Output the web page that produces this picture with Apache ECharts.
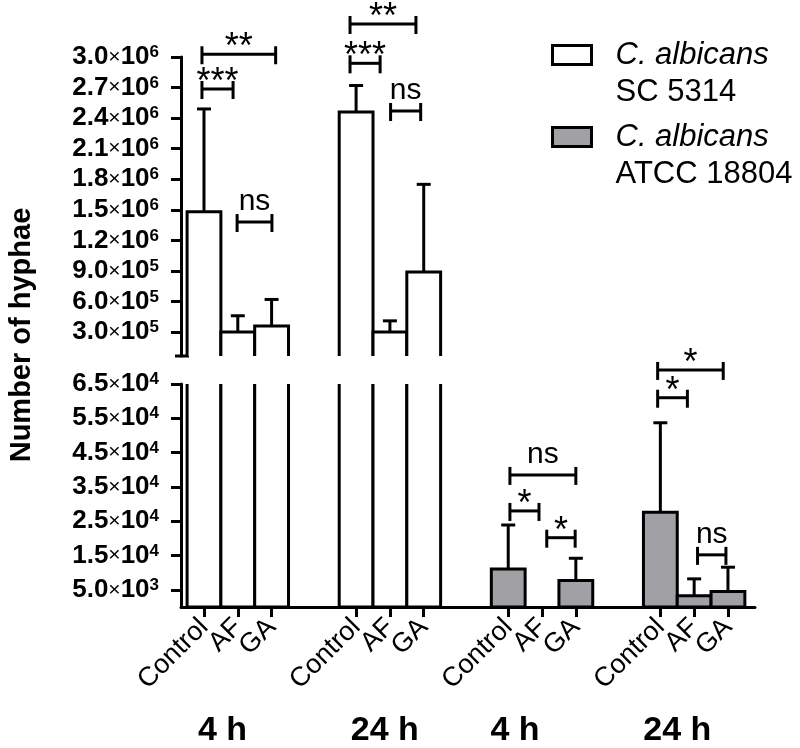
<!DOCTYPE html>
<html><head><meta charset="utf-8">
<script src="https://cdn.jsdelivr.net/npm/echarts@6/dist/echarts.min.js"></script>
<style>html,body{margin:0;padding:0;background:#fff}#c{width:800px;height:748px}</style>
</head><body><div id="c"></div>
<script>
// ---------- data ----------
const treatments = ['Control', 'AF', 'GA'];
const groupLabels = ['4 h', '24 h', '4 h', '24 h'];
const groupStarts = [0, 4.5, 9, 13.5];          // slot index of first bar in each group
const groupLabelPos = [0.55, 5.35, 9.2, 14.0];  // where the group captions sit (slot units)
const strainSpecies = 'C. albicans';
const strainNames = ['SC 5314', 'ATCC 18804'];

const scMean   = [1480000, 300000, 360000, 2460000, 300000, 890000];
const scSD     = [1010000, 160000, 260000, 260000, 110000, 860000];
const atccMean = [11100, 0, 7700, 27600, 3300, 4500];
const atccSD   = [12800, 0, 6500, 26100, 4900, 7100];

const topTicks    = [300000, 600000, 900000, 1200000, 1500000, 1800000, 2100000, 2400000, 2700000, 3000000];
const bottomTicks = [5000, 15000, 25000, 35000, 45000, 55000, 65000];

// significance brackets: panel (0 top, 1 bottom), from slot, to slot, level, text
const brPanel = [0, 0, 0, 0, 0, 0, 1, 1, 1, 1, 1, 1];
const brX1    = [-0.06, -0.06, 0.98, 4.32, 4.32, 5.52, 9.05, 9.05, 10.14, 13.42, 13.42, 14.6];
const brX2    = [2.12, 0.86, 2.01, 6.27, 5.21, 6.41, 11.0, 9.91, 10.98, 15.36, 14.30, 15.44];
const brY     = [3027000, 2686000, 1380000, 3324000, 2938000, 2470000, 38500, 28000, 20200, 69100, 61000, 15200];
const brText  = ['**', '***', 'ns', '**', '***', 'ns', 'ns', '*', '*', '*', '*', 'ns'];

// ---------- helpers ----------
const slots = groupStarts.flatMap(g => [g, g + 1, g + 2]);
const FONT = '"Liberation Sans", Arial, Helvetica, sans-serif';
const X_MIN = -0.68, X_MAX = 16.3;

function sci(v) {
  const e = Math.floor(Math.log10(v) + 1e-9);
  const m = (v / Math.pow(10, e)).toFixed(1);
  return '{b|' + m + '}{x|×}{b|10}{s|' + e + '}';
}
const yRich = {
  b: { fontFamily: FONT, fontWeight: 'bold', fontSize: 26, color: '#000' },
  x: { fontFamily: FONT, fontWeight: 'normal', fontSize: 21, color: '#000' },
  s: { fontFamily: FONT, fontWeight: 'bold', fontSize: 17, color: '#000', verticalAlign: 'top', lineHeight: 13 }
};

function barRender(color) {
  return function (params, api) {
    const cs = params.coordSys;
    const x = api.value(0), m = api.value(1), sd = api.value(2);
    const w = api.size([1, 0])[0];
    const c = api.coord([x, m]);
    const b = api.coord([x, 0]);
    const e = api.coord([x, m + sd]);
    const top = cs.y, bot = cs.y + cs.height;
    const left = c[0] - w / 2, right = c[0] + w / 2;
    const ln = { stroke: '#000', lineWidth: 3 };
    const ch = [];
    const yT = c[1], yB = b[1];
    const yT2 = Math.max(yT, top), yB2 = Math.min(yB, bot);
    if (yB2 > yT2 + 0.5) {
      ch.push({ type: 'rect', shape: { x: left, y: yT2, width: w, height: yB2 - yT2 }, style: { fill: color } });
      if (yT >= top) {
        ch.push({ type: 'polyline', shape: { points: [[left, yB2], [left, yT2], [right, yT2], [right, yB2]] }, style: Object.assign({ fill: null }, ln) });
      } else {
        ch.push({ type: 'line', shape: { x1: left, y1: yT2, x2: left, y2: yB2 }, style: ln });
        ch.push({ type: 'line', shape: { x1: right, y1: yT2, x2: right, y2: yB2 }, style: ln });
      }
      if (yB <= bot) ch.push({ type: 'line', shape: { x1: left, y1: yB2, x2: right, y2: yB2 }, style: ln });
    }
    if (sd > 0) {
      const ey1 = Math.min(yT, bot), ey2 = Math.max(e[1], top);
      if (ey1 > ey2) {
        ch.push({ type: 'line', shape: { x1: c[0], y1: ey1, x2: c[0], y2: ey2 }, style: ln });
        if (e[1] >= top) ch.push({ type: 'line', shape: { x1: c[0] - 7, y1: e[1], x2: c[0] + 7, y2: e[1] }, style: ln });
      }
    }
    return { type: 'group', children: ch };
  };
}

function bracketRender(params, api) {
  const p1 = api.coord([api.value(0), api.value(2)]);
  const p2 = api.coord([api.value(1), api.value(2)]);
  const txt = brText[api.value(3)];
  const y = p1[1];
  const ln = { stroke: '#000', lineWidth: 3 };
  const isNs = txt === 'ns';
  return {
    type: 'group', children: [
      { type: 'line', shape: { x1: p1[0], y1: y, x2: p2[0], y2: y }, style: ln },
      { type: 'line', shape: { x1: p1[0], y1: y - 8, x2: p1[0], y2: y + 10 }, style: ln },
      { type: 'line', shape: { x1: p2[0], y1: y - 8, x2: p2[0], y2: y + 10 }, style: ln },
      { type: 'text', x: (p1[0] + p2[0]) / 2, y: isNs ? y - 20 : y - 6,
        style: { text: txt, fill: '#000', align: 'center', verticalAlign: 'middle',
                 font: (isNs ? '30px ' : '36px ') + FONT } }
    ]
  };
}

function bracketData(panel) {
  const d = [];
  for (let i = 0; i < brText.length; i++) if (brPanel[i] === panel) d.push([brX1[i], brX2[i], brY[i], i]);
  return d;
}

const scData = scMean.map((v, i) => [slots[i], v, scSD[i]]);
const atccData = atccMean.map((v, i) => [slots[i + 6], v, atccSD[i]]);

const axisLineStyle = { show: true, onZero: false, lineStyle: { color: '#000', width: 3 } };
const tickStyle = { show: true, length: 10, lineStyle: { color: '#000', width: 3 } };

// one label axis per treatment so that rotated labels never get auto-hidden
function treatmentLabelAxis(t, withLine) {
  const pos = groupStarts.map(g => g + t);
  return {
    type: 'value', gridIndex: 1, position: 'bottom', offset: 0, min: X_MIN, max: X_MAX, splitLine: { show: false },
    axisLine: withLine ? axisLineStyle : { show: false, onZero: false },
    axisTick: withLine ? Object.assign({ customValues: slots }, tickStyle) : { show: false },
    axisLabel: { customValues: pos, rotate: 45, margin: 16, fontFamily: FONT, fontSize: 27, color: '#000',
      showMinLabel: true, showMaxLabel: true, hideOverlap: false,
      formatter: () => treatments[t] }
  };
}

function legendFor(idx, topPx) {
  return {
    data: [strainNames[idx]], left: 551, top: topPx, padding: 0, orient: 'vertical',
    icon: 'rect', itemWidth: 39, itemHeight: 19, selectedMode: false,
    itemStyle: { borderColor: '#000', borderWidth: 3 },
    formatter: name => '{sp| }\n{i|' + strainSpecies + '}\n{n|' + name + '}',
    textStyle: {
      rich: {
        sp: { fontSize: 10, lineHeight: 37, padding: [0, 0, 0, 19] },
        i: { fontFamily: FONT, fontStyle: 'italic', fontSize: 31, lineHeight: 37, color: '#000', padding: [0, 0, 0, 19] },
        n: { fontFamily: FONT, fontSize: 31, lineHeight: 37, color: '#000', padding: [0, 0, 0, 19] }
      }
    }
  };
}

const chart = echarts.init(document.getElementById('c'), null, { renderer: 'canvas' });
chart.setOption({
  backgroundColor: '#fff',
  animation: false,
  legend: [legendFor(0, 13), legendFor(1, 95)],
  grid: [
    { left: 181, top: 57, width: 574, height: 299 },
    { left: 181, top: 384, width: 574, height: 223 }
  ],
  xAxis: [
    { type: 'value', gridIndex: 0, min: X_MIN, max: X_MAX, show: false },
    treatmentLabelAxis(0, true),
    treatmentLabelAxis(1, false),
    treatmentLabelAxis(2, false),
    { type: 'value', gridIndex: 1, position: 'bottom', offset: 0, min: X_MIN, max: X_MAX, splitLine: { show: false },
      axisLine: { show: false, onZero: false }, axisTick: { show: false },
      axisLabel: { customValues: groupLabelPos, margin: 107, fontFamily: FONT, fontWeight: 'bold', fontSize: 34, color: '#000',
        showMinLabel: true, showMaxLabel: true,
        formatter: v => { const i = groupLabelPos.findIndex(s => Math.abs(s - v) < 1e-6); return i >= 0 ? groupLabels[i] : ''; } } }
  ],
  yAxis: [
    { type: 'value', gridIndex: 0, min: 65000, max: 3000000, splitLine: { show: false },
      axisLine: axisLineStyle,
      axisTick: Object.assign({ customValues: topTicks }, tickStyle),
      axisLabel: { customValues: topTicks, margin: 22, formatter: sci, rich: yRich, showMinLabel: true, showMaxLabel: true } },
    { type: 'value', gridIndex: 1, min: 0, max: 65000, splitLine: { show: false },
      axisLine: axisLineStyle,
      axisTick: Object.assign({ customValues: bottomTicks }, tickStyle),
      axisLabel: { customValues: bottomTicks, margin: 22, formatter: sci, rich: yRich, showMinLabel: true, showMaxLabel: true } }
  ],
  graphic: [
    { type: 'text', x: 22, y: 335, rotation: Math.PI / 2,
      style: { text: 'Number of hyphae', font: 'bold 29px ' + FONT, fill: '#000', align: 'center', verticalAlign: 'middle' } },
    { type: 'line', shape: { x1: 175, y1: 356, x2: 189, y2: 356 }, style: { stroke: '#000', lineWidth: 3 } }
  ],
  series: [
    { type: 'custom', name: strainNames[0], xAxisIndex: 0, yAxisIndex: 0, data: scData, renderItem: barRender('#ffffff'),
      itemStyle: { color: '#ffffff' }, encode: { x: 0, y: 1 } },
    { type: 'custom', name: strainNames[1], xAxisIndex: 0, yAxisIndex: 0, data: atccData, renderItem: barRender('#a0a0a5'),
      itemStyle: { color: '#a0a0a5' }, encode: { x: 0, y: 1 } },
    { type: 'custom', name: strainNames[0], xAxisIndex: 1, yAxisIndex: 1, data: scData, renderItem: barRender('#ffffff'),
      itemStyle: { color: '#ffffff' }, encode: { x: 0, y: 1 } },
    { type: 'custom', name: strainNames[1], xAxisIndex: 1, yAxisIndex: 1, data: atccData, renderItem: barRender('#a0a0a5'),
      itemStyle: { color: '#a0a0a5' }, encode: { x: 0, y: 1 } },
    { type: 'custom', name: 'brackets-top', xAxisIndex: 0, yAxisIndex: 0, data: bracketData(0), renderItem: bracketRender,
      clip: false, encode: { x: [0, 1], y: 2 }, z: 5 },
    { type: 'custom', name: 'brackets-bottom', xAxisIndex: 1, yAxisIndex: 1, data: bracketData(1), renderItem: bracketRender,
      clip: false, encode: { x: [0, 1], y: 2 }, z: 5 }
  ]
});
</script></body></html>
